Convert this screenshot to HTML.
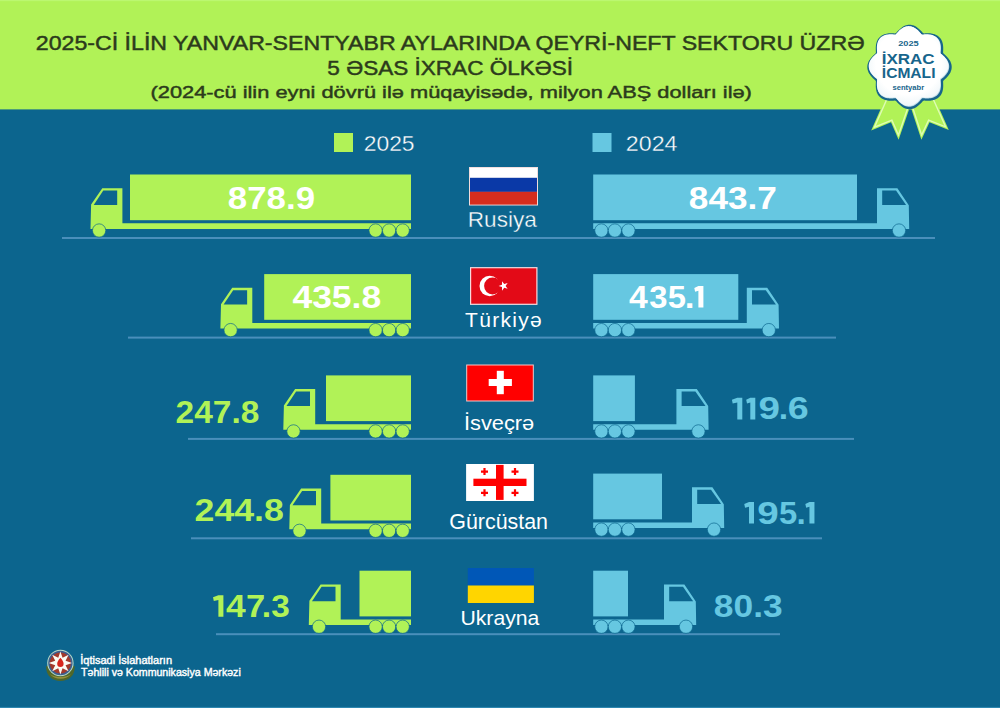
<!DOCTYPE html>
<html lang="az">
<head>
<meta charset="utf-8">
<title>İxrac icmalı 2025 sentyabr</title>
<style>
html,body{margin:0;padding:0;background:#0c658e;}
body{width:1000px;height:708px;overflow:hidden;font-family:"Liberation Sans",sans-serif;}
svg{display:block;}
</style>
</head>
<body>
<svg width="1000" height="708" viewBox="0 0 1000 708" font-family="Liberation Sans, sans-serif">
<rect width="1000" height="708" fill="#0c658e"/>
<rect width="1000" height="109.4" fill="#b1f257"/>
<rect width="1000" height="1.2" fill="#bbf770"/>
<rect y="706.9" width="1000" height="1.1" fill="#2f87b0"/>
<text x="35.82" y="50" font-size="19.6" font-weight="normal" fill="#2c3b1c" textLength="828.77" lengthAdjust="spacingAndGlyphs" stroke="#2c3b1c" stroke-width="0.45">2025-Cİ İLİN YANVAR-SENTYABR AYLARINDA QEYRİ-NEFT SEKTORU ÜZRƏ</text>
<text x="327.39" y="74.6" font-size="19.6" font-weight="normal" fill="#2c3b1c" textLength="245.72" lengthAdjust="spacingAndGlyphs" stroke="#2c3b1c" stroke-width="0.45">5 ƏSAS İXRAC ÖLKƏSİ</text>
<text x="150.54" y="98" font-size="17.3" font-weight="normal" fill="#2c3b1c" textLength="601.37" lengthAdjust="spacingAndGlyphs" stroke="#2c3b1c" stroke-width="0.45">(2024-cü ilin eyni dövrü ilə müqayisədə, milyon ABŞ dolları ilə)</text>
<rect x="334" y="133" width="19" height="19" fill="#b1f257"/>
<text x="363.7" y="150.6" font-size="22.3" font-weight="normal" fill="#ffffff" textLength="50.91" lengthAdjust="spacingAndGlyphs" stroke="#0c658e" stroke-width="0.35">2025</text>
<rect x="592.5" y="133" width="19" height="19" fill="#66c7e1"/>
<text x="625.88" y="150.6" font-size="22.3" font-weight="normal" fill="#ffffff" textLength="51.6" lengthAdjust="spacingAndGlyphs" stroke="#0c658e" stroke-width="0.35">2024</text>
<rect x="62" y="237" width="873" height="2" fill="#4a8fbb"/>
<rect x="130" y="174.5" width="281" height="45.7" fill="#b1f257"/>
<polygon points="90.5,228.9 91.1,204.6 102.3,188.2 122.4,188.2 122.4,223.3 411,223.3 411,228.9" fill="#b1f257"/>
<polygon points="103.3,190.6 117.2,190.6 117.2,205 93.7,205" fill="#0c658e"/>
<circle cx="99.1" cy="230.5" r="6.65" fill="#b1f257" stroke="#0c658e" stroke-width="0.7"/>
<circle cx="375.6" cy="230.5" r="6.65" fill="#b1f257" stroke="#0c658e" stroke-width="0.7"/>
<circle cx="389.1" cy="230.5" r="6.65" fill="#b1f257" stroke="#0c658e" stroke-width="0.7"/>
<circle cx="402.7" cy="230.5" r="6.65" fill="#b1f257" stroke="#0c658e" stroke-width="0.7"/>
<rect x="593.2" y="174.5" width="263.8" height="45.7" fill="#66c7e1"/>
<polygon points="593.2,228.9 593.2,223.3 877,223.3 877,188.2 897.4,188.2 908.8,205.2 909.2,228.9" fill="#66c7e1"/>
<polygon points="882.2,190.6 896,190.6 906.1,205 882.2,205" fill="#0c658e"/>
<circle cx="899" cy="230.5" r="6.65" fill="#66c7e1" stroke="#0c658e" stroke-width="0.7"/>
<circle cx="601.4" cy="230.5" r="6.65" fill="#66c7e1" stroke="#0c658e" stroke-width="0.7"/>
<circle cx="614.9" cy="230.5" r="6.65" fill="#66c7e1" stroke="#0c658e" stroke-width="0.7"/>
<circle cx="628.4" cy="230.5" r="6.65" fill="#66c7e1" stroke="#0c658e" stroke-width="0.7"/>
<rect x="128" y="336.6" width="708" height="2" fill="#4a8fbb"/>
<rect x="264.2" y="274.1" width="146.8" height="45.7" fill="#b1f257"/>
<polygon points="220.4,328.5 221,304.2 232.2,287.8 252.3,287.8 252.3,322.9 411,322.9 411,328.5" fill="#b1f257"/>
<polygon points="233.2,290.2 247.1,290.2 247.1,304.6 223.6,304.6" fill="#0c658e"/>
<circle cx="230.6" cy="330.1" r="6.65" fill="#b1f257" stroke="#0c658e" stroke-width="0.7"/>
<circle cx="375.6" cy="330.1" r="6.65" fill="#b1f257" stroke="#0c658e" stroke-width="0.7"/>
<circle cx="389.1" cy="330.1" r="6.65" fill="#b1f257" stroke="#0c658e" stroke-width="0.7"/>
<circle cx="402.7" cy="330.1" r="6.65" fill="#b1f257" stroke="#0c658e" stroke-width="0.7"/>
<rect x="593.2" y="274.1" width="145.1" height="45.7" fill="#66c7e1"/>
<polygon points="593.2,328.5 593.2,322.9 746.8,322.9 746.8,287.8 767.2,287.8 778.6,304.8 779,328.5" fill="#66c7e1"/>
<polygon points="752,290.2 765.8,290.2 775.9,304.6 752,304.6" fill="#0c658e"/>
<circle cx="768.8" cy="330.1" r="6.65" fill="#66c7e1" stroke="#0c658e" stroke-width="0.7"/>
<circle cx="601.4" cy="330.1" r="6.65" fill="#66c7e1" stroke="#0c658e" stroke-width="0.7"/>
<circle cx="614.9" cy="330.1" r="6.65" fill="#66c7e1" stroke="#0c658e" stroke-width="0.7"/>
<circle cx="628.4" cy="330.1" r="6.65" fill="#66c7e1" stroke="#0c658e" stroke-width="0.7"/>
<rect x="188" y="437.9" width="666" height="2" fill="#4a8fbb"/>
<rect x="326" y="375.4" width="85" height="45.7" fill="#b1f257"/>
<polygon points="283.3,429.8 283.9,405.5 295.1,389.1 315.2,389.1 315.2,424.2 411,424.2 411,429.8" fill="#b1f257"/>
<polygon points="296.1,391.5 310,391.5 310,405.9 286.5,405.9" fill="#0c658e"/>
<circle cx="293.5" cy="431.4" r="6.65" fill="#b1f257" stroke="#0c658e" stroke-width="0.7"/>
<circle cx="375.6" cy="431.4" r="6.65" fill="#b1f257" stroke="#0c658e" stroke-width="0.7"/>
<circle cx="389.1" cy="431.4" r="6.65" fill="#b1f257" stroke="#0c658e" stroke-width="0.7"/>
<circle cx="402.7" cy="431.4" r="6.65" fill="#b1f257" stroke="#0c658e" stroke-width="0.7"/>
<rect x="593.2" y="375.4" width="41.7" height="45.7" fill="#66c7e1"/>
<polygon points="593.2,429.8 593.2,424.2 676.4,424.2 676.4,389.1 696.8,389.1 708.2,406.1 708.6,429.8" fill="#66c7e1"/>
<polygon points="681.6,391.5 695.4,391.5 705.5,405.9 681.6,405.9" fill="#0c658e"/>
<circle cx="698.4" cy="431.4" r="6.65" fill="#66c7e1" stroke="#0c658e" stroke-width="0.7"/>
<circle cx="601.4" cy="431.4" r="6.65" fill="#66c7e1" stroke="#0c658e" stroke-width="0.7"/>
<circle cx="614.9" cy="431.4" r="6.65" fill="#66c7e1" stroke="#0c658e" stroke-width="0.7"/>
<circle cx="628.4" cy="431.4" r="6.65" fill="#66c7e1" stroke="#0c658e" stroke-width="0.7"/>
<rect x="191" y="537.3" width="631" height="2" fill="#4a8fbb"/>
<rect x="330.4" y="474.8" width="80.6" height="45.7" fill="#b1f257"/>
<polygon points="289.3,529.2 289.9,504.9 301.1,488.5 321.2,488.5 321.2,523.6 411,523.6 411,529.2" fill="#b1f257"/>
<polygon points="302.1,490.9 316,490.9 316,505.3 292.5,505.3" fill="#0c658e"/>
<circle cx="299.5" cy="530.8" r="6.65" fill="#b1f257" stroke="#0c658e" stroke-width="0.7"/>
<circle cx="375.6" cy="530.8" r="6.65" fill="#b1f257" stroke="#0c658e" stroke-width="0.7"/>
<circle cx="389.1" cy="530.8" r="6.65" fill="#b1f257" stroke="#0c658e" stroke-width="0.7"/>
<circle cx="402.7" cy="530.8" r="6.65" fill="#b1f257" stroke="#0c658e" stroke-width="0.7"/>
<rect x="593.2" y="473.6" width="68.8" height="45.7" fill="#66c7e1"/>
<polygon points="593.2,528 593.2,522.4 692,522.4 692,487.3 712.4,487.3 723.8,504.3 724.2,528" fill="#66c7e1"/>
<polygon points="697.2,489.7 711,489.7 721.1,504.1 697.2,504.1" fill="#0c658e"/>
<circle cx="714" cy="529.6" r="6.65" fill="#66c7e1" stroke="#0c658e" stroke-width="0.7"/>
<circle cx="601.4" cy="529.6" r="6.65" fill="#66c7e1" stroke="#0c658e" stroke-width="0.7"/>
<circle cx="614.9" cy="529.6" r="6.65" fill="#66c7e1" stroke="#0c658e" stroke-width="0.7"/>
<circle cx="628.4" cy="529.6" r="6.65" fill="#66c7e1" stroke="#0c658e" stroke-width="0.7"/>
<rect x="216" y="633.2" width="564" height="2" fill="#4a8fbb"/>
<rect x="359.5" y="570.7" width="51.5" height="45.7" fill="#b1f257"/>
<polygon points="308.8,625.1 309.4,600.8 320.6,584.4 340.7,584.4 340.7,619.5 411,619.5 411,625.1" fill="#b1f257"/>
<polygon points="321.6,586.8 335.5,586.8 335.5,601.2 312,601.2" fill="#0c658e"/>
<circle cx="319" cy="626.7" r="6.65" fill="#b1f257" stroke="#0c658e" stroke-width="0.7"/>
<circle cx="375.6" cy="626.7" r="6.65" fill="#b1f257" stroke="#0c658e" stroke-width="0.7"/>
<circle cx="389.1" cy="626.7" r="6.65" fill="#b1f257" stroke="#0c658e" stroke-width="0.7"/>
<circle cx="402.7" cy="626.7" r="6.65" fill="#b1f257" stroke="#0c658e" stroke-width="0.7"/>
<rect x="593.2" y="570.7" width="34.8" height="45.7" fill="#66c7e1"/>
<polygon points="593.2,625.1 593.2,619.5 664,619.5 664,584.4 684.4,584.4 695.8,601.4 696.2,625.1" fill="#66c7e1"/>
<polygon points="669.2,586.8 683,586.8 693.1,601.2 669.2,601.2" fill="#0c658e"/>
<circle cx="686" cy="626.7" r="6.65" fill="#66c7e1" stroke="#0c658e" stroke-width="0.7"/>
<circle cx="601.4" cy="626.7" r="6.65" fill="#66c7e1" stroke="#0c658e" stroke-width="0.7"/>
<circle cx="614.9" cy="626.7" r="6.65" fill="#66c7e1" stroke="#0c658e" stroke-width="0.7"/>
<circle cx="628.4" cy="626.7" r="6.65" fill="#66c7e1" stroke="#0c658e" stroke-width="0.7"/>
<text x="227.86" y="208.6" font-size="30.5" font-weight="bold" fill="#ffffff" textLength="87.17" lengthAdjust="spacingAndGlyphs" >878.9</text>
<text x="688.85" y="208.6" font-size="30.5" font-weight="bold" fill="#ffffff" textLength="88.08" lengthAdjust="spacingAndGlyphs" >843.7</text>
<text x="292.42" y="307.8" font-size="30.5" font-weight="bold" fill="#ffffff" textLength="88.79" lengthAdjust="spacingAndGlyphs" >435.8</text>
<text x="629" y="307.6" font-size="30.5" font-weight="bold" fill="#ffffff" textLength="18.74" lengthAdjust="spacingAndGlyphs" >4</text>
<text x="649.29" y="307.6" font-size="30.5" font-weight="bold" fill="#ffffff" textLength="18.22" lengthAdjust="spacingAndGlyphs" >3</text>
<text x="667.88" y="307.6" font-size="30.5" font-weight="bold" fill="#ffffff" textLength="18.22" lengthAdjust="spacingAndGlyphs" >5</text>
<text x="684.85" y="307.6" font-size="30.5" font-weight="bold" fill="#ffffff" textLength="9.77" lengthAdjust="spacingAndGlyphs" >.</text>
<polygon points="698.4,286 703.4,286 703.4,307.6 698.4,307.6 698.4,290.7 695.1,291.7 694.3,288" fill="#ffffff"/>
<text x="175.6" y="422.7" font-size="30.5" font-weight="bold" fill="#b1f257" textLength="83.74" lengthAdjust="spacingAndGlyphs" >247.8</text>
<polygon points="737.3,397.8 742.3,397.8 742.3,419.4 737.3,419.4 737.3,402.5 732.7,403.5 731.9,399.8" fill="#66c7e1"/>
<polygon points="750.3,397.8 755.3,397.8 755.3,419.4 750.3,419.4 750.3,402.5 747,403.5 746.2,399.8" fill="#66c7e1"/>
<text x="758.58" y="419.4" font-size="30.5" font-weight="bold" fill="#66c7e1" textLength="21.5" lengthAdjust="spacingAndGlyphs" >9</text>
<text x="778.75" y="419.4" font-size="30.5" font-weight="bold" fill="#66c7e1" textLength="9.37" lengthAdjust="spacingAndGlyphs" >.</text>
<text x="787.71" y="419.4" font-size="30.5" font-weight="bold" fill="#66c7e1" textLength="20.93" lengthAdjust="spacingAndGlyphs" >6</text>
<text x="194.53" y="521" font-size="30.5" font-weight="bold" fill="#b1f257" textLength="89.39" lengthAdjust="spacingAndGlyphs" >244.8</text>
<polygon points="749,502 754,502 754,523.6 749,523.6 749,506.7 745.05,507.7 744.25,504" fill="#66c7e1"/>
<text x="757.28" y="523.6" font-size="30.5" font-weight="bold" fill="#66c7e1" textLength="21.5" lengthAdjust="spacingAndGlyphs" >9</text>
<text x="778.93" y="523.6" font-size="30.5" font-weight="bold" fill="#66c7e1" textLength="18.22" lengthAdjust="spacingAndGlyphs" >5</text>
<text x="796.53" y="523.6" font-size="30.5" font-weight="bold" fill="#66c7e1" textLength="9.27" lengthAdjust="spacingAndGlyphs" >.</text>
<polygon points="809.45,502 814.45,502 814.45,523.6 809.45,523.6 809.45,506.7 806.15,507.7 805.35,504" fill="#66c7e1"/>
<polygon points="218.4,595.2 223.4,595.2 223.4,616.8 218.4,616.8 218.4,599.9 213.8,600.9 213,597.2" fill="#b1f257"/>
<text x="226.07" y="616.8" font-size="30.5" font-weight="bold" fill="#b1f257" textLength="19.68" lengthAdjust="spacingAndGlyphs" >4</text>
<text x="246.04" y="616.8" font-size="30.5" font-weight="bold" fill="#b1f257" textLength="19.18" lengthAdjust="spacingAndGlyphs" >7</text>
<text x="261.85" y="616.8" font-size="30.5" font-weight="bold" fill="#b1f257" textLength="9.37" lengthAdjust="spacingAndGlyphs" >.</text>
<text x="271.33" y="616.8" font-size="30.5" font-weight="bold" fill="#b1f257" textLength="18.56" lengthAdjust="spacingAndGlyphs" >3</text>
<text x="713.84" y="617" font-size="30.5" font-weight="bold" fill="#66c7e1" textLength="68.85" lengthAdjust="spacingAndGlyphs" >80.3</text>
<rect x="469" y="167" width="69" height="38.5" fill="#f1dcdc"/>
<rect x="470" y="167.9" width="67" height="10" fill="#ffffff"/>
<rect x="470" y="177.8" width="67" height="14.1" fill="#0a39a7"/>
<rect x="470" y="191.8" width="67" height="12.8" fill="#d62d1e"/>
<text x="467.74" y="227.3" font-size="21.3" font-weight="normal" fill="#ffffff" textLength="69.14" lengthAdjust="spacingAndGlyphs" stroke="#0c658e" stroke-width="0.35">Rusiya</text>
<rect x="470" y="267.1" width="67.5" height="37.8" fill="#f9dadd"/>
<rect x="471.2" y="268.3" width="65.1" height="35.4" fill="#e30a17"/>
<circle cx="489.7" cy="286" r="10.2" fill="#ffffff"/>
<circle cx="492.6" cy="286" r="8.5" fill="#e30a17"/>
<polygon points="498.6,285.9 501.98,284.72 502.05,281.14 504.22,284 507.65,282.96 505.6,285.9 507.65,288.84 504.22,287.8 502.05,290.66 501.98,287.08" fill="#ffffff"/>
<text x="465.1" y="326.65" font-size="21" font-weight="normal" fill="#ffffff" textLength="76.62" lengthAdjust="spacing" >Türkiyə</text>
<rect x="466.2" y="364.5" width="67.6" height="37" fill="#f8c4c4"/>
<rect x="467.2" y="365.5" width="65.6" height="35" fill="#ff0000"/>
<rect x="488.7" y="379" width="23.2" height="7" fill="#ffffff"/>
<rect x="496.8" y="370.8" width="7" height="23.4" fill="#ffffff"/>
<text x="463.92" y="429.6" font-size="21" font-weight="normal" fill="#ffffff" textLength="70.35" lengthAdjust="spacingAndGlyphs" >İsveçrə</text>
<rect x="466.1" y="464" width="67.8" height="37" fill="#ffffff"/>
<rect x="473.4" y="478.7" width="53.1" height="7.3" fill="#ff0000"/>
<rect x="496" y="464.9" width="7.6" height="35" fill="#ff0000"/>
<path d="M481 471.6h7M484.5 468.1v7" stroke="#ff0000" stroke-width="2.2" fill="none"/>
<path d="M511.5 471.6h7M515 468.1v7" stroke="#ff0000" stroke-width="2.2" fill="none"/>
<path d="M481 492.8h7M484.5 489.3v7" stroke="#ff0000" stroke-width="2.2" fill="none"/>
<path d="M511.5 492.8h7M515 489.3v7" stroke="#ff0000" stroke-width="2.2" fill="none"/>
<text x="449.28" y="529.25" font-size="21.5" font-weight="normal" fill="#ffffff" textLength="98.75" lengthAdjust="spacingAndGlyphs" >Gürcüstan</text>
<rect x="467.8" y="568" width="66.1" height="17.6" fill="#0057b7"/>
<rect x="467.8" y="585.5" width="66.1" height="17.5" fill="#ffd500"/>
<text x="460.46" y="625.35" font-size="21" font-weight="normal" fill="#ffffff" textLength="78.94" lengthAdjust="spacingAndGlyphs" >Ukrayna</text>
<polygon points="887.6,93.3 871.2,130.4 891,122.3 898.6,139.8 909.4,108.6 905,96" fill="#b1f257"/>
<polygon points="932.5,93.3 948.8,129.9 929.5,122.3 921.4,139.8 911.2,108.6 915,96" fill="#b1f257"/>
<polyline points="889.15,93.99 874.46,127.23 891.9,120.1 898.42,135.12 907.79,108.04" fill="none" stroke="#defcb4" stroke-width="1.4" stroke-linejoin="miter"/>
<polyline points="930.95,93.99 945.56,126.8 928.63,120.13 921.67,135.16 912.82,108.07" fill="none" stroke="#defcb4" stroke-width="1.4" stroke-linejoin="miter"/>
<defs><radialGradient id="bg1" cx="50%" cy="45%" r="55%"><stop offset="0.75" stop-color="#ffffff"/><stop offset="1" stop-color="#eef6f9"/></radialGradient></defs>
<path d="M951.7 67L951.65 68.1L951.49 69.2L951.23 70.28L950.88 71.35L950.43 72.39L949.89 73.4L949.28 74.37L948.61 75.31L947.87 76.21L947.1 77.07L946.29 77.9L945.47 78.69L944.64 79.44L943.84 80.18L943.13 80.93L943.11 81.96L943.15 83.05L943.2 84.17L943.22 85.31L943.21 86.46L943.15 87.62L943.03 88.78L942.85 89.92L942.59 91.04L942.25 92.13L941.83 93.18L941.33 94.19L940.75 95.14L940.08 96.02L939.34 96.84L938.52 97.58L937.64 98.25L936.69 98.83L935.68 99.33L934.63 99.75L933.54 100.09L932.42 100.35L931.28 100.53L930.12 100.65L928.96 100.71L927.81 100.72L926.67 100.7L925.55 100.65L924.46 100.61L923.43 100.63L922.68 101.34L921.94 102.14L921.19 102.97L920.4 103.79L919.57 104.6L918.71 105.37L917.81 106.11L916.87 106.78L915.9 107.39L914.89 107.93L913.85 108.38L912.78 108.73L911.7 108.99L910.6 109.15L909.5 109.2L908.4 109.15L907.3 108.99L906.22 108.73L905.15 108.38L904.11 107.93L903.1 107.39L902.13 106.78L901.19 106.11L900.29 105.37L899.43 104.6L898.6 103.79L897.81 102.97L897.06 102.14L896.32 101.34L895.57 100.63L894.54 100.61L893.45 100.65L892.33 100.7L891.19 100.72L890.04 100.71L888.88 100.65L887.72 100.53L886.58 100.35L885.46 100.09L884.37 99.75L883.32 99.33L882.31 98.83L881.36 98.25L880.48 97.58L879.66 96.84L878.92 96.02L878.25 95.14L877.67 94.19L877.17 93.18L876.75 92.13L876.41 91.04L876.15 89.92L875.97 88.78L875.85 87.62L875.79 86.46L875.78 85.31L875.8 84.17L875.85 83.05L875.89 81.96L875.87 80.93L875.16 80.18L874.36 79.44L873.53 78.69L872.71 77.9L871.9 77.07L871.13 76.21L870.39 75.31L869.72 74.37L869.11 73.4L868.57 72.39L868.12 71.35L867.77 70.28L867.51 69.2L867.35 68.1L867.3 67L867.35 65.9L867.51 64.8L867.77 63.72L868.12 62.65L868.57 61.61L869.11 60.6L869.72 59.63L870.39 58.69L871.13 57.79L871.9 56.93L872.71 56.1L873.53 55.31L874.36 54.56L875.16 53.82L875.87 53.07L875.89 52.04L875.85 50.95L875.8 49.83L875.78 48.69L875.79 47.54L875.85 46.38L875.97 45.22L876.15 44.08L876.41 42.96L876.75 41.87L877.17 40.82L877.67 39.81L878.25 38.86L878.92 37.98L879.66 37.16L880.48 36.42L881.36 35.75L882.31 35.17L883.32 34.67L884.37 34.25L885.46 33.91L886.58 33.65L887.72 33.47L888.88 33.35L890.04 33.29L891.19 33.28L892.33 33.3L893.45 33.35L894.54 33.39L895.57 33.37L896.32 32.66L897.06 31.86L897.81 31.03L898.6 30.21L899.43 29.4L900.29 28.63L901.19 27.89L902.13 27.22L903.1 26.61L904.11 26.07L905.15 25.62L906.22 25.27L907.3 25.01L908.4 24.85L909.5 24.8L910.6 24.85L911.7 25.01L912.78 25.27L913.85 25.62L914.89 26.07L915.9 26.61L916.87 27.22L917.81 27.89L918.71 28.63L919.57 29.4L920.4 30.21L921.19 31.03L921.94 31.86L922.68 32.66L923.43 33.37L924.46 33.39L925.55 33.35L926.67 33.3L927.81 33.28L928.96 33.29L930.12 33.35L931.28 33.47L932.42 33.65L933.54 33.91L934.63 34.25L935.68 34.67L936.69 35.17L937.64 35.75L938.52 36.42L939.34 37.16L940.08 37.98L940.75 38.86L941.33 39.81L941.83 40.82L942.25 41.87L942.59 42.96L942.85 44.08L943.03 45.22L943.15 46.38L943.21 47.54L943.22 48.69L943.2 49.83L943.15 50.95L943.11 52.04L943.13 53.07L943.84 53.82L944.64 54.56L945.47 55.31L946.29 56.1L947.1 56.93L947.87 57.79L948.61 58.69L949.28 59.63L949.89 60.6L950.43 61.61L950.88 62.65L951.23 63.72L951.49 64.8L951.65 65.9Z" fill="#17658c"/>
<path d="M949.2 66.6L949.15 67.65L948.99 68.69L948.74 69.72L948.39 70.73L947.95 71.71L947.42 72.67L946.82 73.59L946.15 74.48L945.43 75.32L944.67 76.13L943.88 76.9L943.07 77.64L942.26 78.34L941.48 79.03L940.79 79.73L940.79 80.71L940.85 81.75L940.92 82.82L940.98 83.91L940.99 85.01L940.96 86.12L940.87 87.23L940.71 88.33L940.49 89.4L940.18 90.45L939.8 91.46L939.33 92.42L938.79 93.33L938.16 94.18L937.45 94.95L936.68 95.66L935.83 96.29L934.92 96.83L933.96 97.3L932.95 97.68L931.9 97.99L930.83 98.21L929.73 98.37L928.62 98.46L927.51 98.49L926.41 98.48L925.32 98.42L924.25 98.35L923.21 98.29L922.23 98.29L921.53 98.98L920.84 99.76L920.14 100.57L919.4 101.38L918.63 102.17L917.82 102.93L916.98 103.65L916.09 104.32L915.17 104.92L914.21 105.45L913.23 105.89L912.22 106.24L911.19 106.49L910.15 106.65L909.1 106.7L908.05 106.65L907.01 106.49L905.98 106.24L904.97 105.89L903.99 105.45L903.03 104.92L902.11 104.32L901.22 103.65L900.38 102.93L899.57 102.17L898.8 101.38L898.06 100.57L897.36 99.76L896.67 98.98L895.97 98.29L894.99 98.29L893.95 98.35L892.88 98.42L891.79 98.48L890.69 98.49L889.58 98.46L888.47 98.37L887.37 98.21L886.3 97.99L885.25 97.68L884.24 97.3L883.28 96.83L882.37 96.29L881.52 95.66L880.75 94.95L880.04 94.18L879.41 93.33L878.87 92.42L878.4 91.46L878.02 90.45L877.71 89.4L877.49 88.33L877.33 87.23L877.24 86.12L877.21 85.01L877.22 83.91L877.28 82.82L877.35 81.75L877.41 80.71L877.41 79.73L876.72 79.03L875.94 78.34L875.13 77.64L874.32 76.9L873.53 76.13L872.77 75.32L872.05 74.48L871.38 73.59L870.78 72.67L870.25 71.71L869.81 70.73L869.46 69.72L869.21 68.69L869.05 67.65L869 66.6L869.05 65.55L869.21 64.51L869.46 63.48L869.81 62.47L870.25 61.49L870.78 60.53L871.38 59.61L872.05 58.72L872.77 57.88L873.53 57.07L874.32 56.3L875.13 55.56L875.94 54.86L876.72 54.17L877.41 53.47L877.41 52.49L877.35 51.45L877.28 50.38L877.22 49.29L877.21 48.19L877.24 47.08L877.33 45.97L877.49 44.87L877.71 43.8L878.02 42.75L878.4 41.74L878.87 40.78L879.41 39.87L880.04 39.02L880.75 38.25L881.52 37.54L882.37 36.91L883.28 36.37L884.24 35.9L885.25 35.52L886.3 35.21L887.37 34.99L888.47 34.83L889.58 34.74L890.69 34.71L891.79 34.72L892.88 34.78L893.95 34.85L894.99 34.91L895.97 34.91L896.67 34.22L897.36 33.44L898.06 32.63L898.8 31.82L899.57 31.03L900.38 30.27L901.22 29.55L902.11 28.88L903.03 28.28L903.99 27.75L904.97 27.31L905.98 26.96L907.01 26.71L908.05 26.55L909.1 26.5L910.15 26.55L911.19 26.71L912.22 26.96L913.23 27.31L914.21 27.75L915.17 28.28L916.09 28.88L916.98 29.55L917.82 30.27L918.63 31.03L919.4 31.82L920.14 32.63L920.84 33.44L921.53 34.22L922.23 34.91L923.21 34.91L924.25 34.85L925.32 34.78L926.41 34.72L927.51 34.71L928.62 34.74L929.73 34.83L930.83 34.99L931.9 35.21L932.95 35.52L933.96 35.9L934.92 36.37L935.83 36.91L936.68 37.54L937.45 38.25L938.16 39.02L938.79 39.87L939.33 40.78L939.8 41.74L940.18 42.75L940.49 43.8L940.71 44.87L940.87 45.97L940.96 47.08L940.99 48.19L940.98 49.29L940.92 50.38L940.85 51.45L940.79 52.49L940.79 53.47L941.48 54.17L942.26 54.86L943.07 55.56L943.88 56.3L944.67 57.07L945.43 57.88L946.15 58.72L946.82 59.61L947.42 60.53L947.95 61.49L948.39 62.47L948.74 63.48L948.99 64.51L949.15 65.55Z" fill="#bfd9e6"/>
<path d="M948.5 66L948.45 67.04L948.29 68.08L948.04 69.1L947.69 70.11L947.25 71.09L946.72 72.04L946.12 72.95L945.46 73.83L944.74 74.68L943.98 75.48L943.19 76.24L942.38 76.98L941.57 77.68L940.8 78.36L940.1 79.05L940.1 80.03L940.17 81.06L940.25 82.12L940.3 83.21L940.32 84.31L940.29 85.42L940.2 86.52L940.05 87.62L939.83 88.69L939.53 89.73L939.14 90.73L938.68 91.69L938.14 92.6L937.51 93.44L936.81 94.21L936.04 94.91L935.2 95.54L934.29 96.08L933.33 96.54L932.33 96.93L931.29 97.23L930.22 97.45L929.12 97.6L928.02 97.69L926.91 97.72L925.81 97.7L924.72 97.65L923.66 97.57L922.63 97.5L921.65 97.5L920.96 98.2L920.28 98.97L919.58 99.78L918.84 100.59L918.08 101.38L917.28 102.14L916.43 102.86L915.55 103.52L914.64 104.12L913.69 104.65L912.71 105.09L911.7 105.44L910.68 105.69L909.64 105.85L908.6 105.9L907.56 105.85L906.52 105.69L905.5 105.44L904.49 105.09L903.51 104.65L902.56 104.12L901.65 103.52L900.77 102.86L899.92 102.14L899.12 101.38L898.36 100.59L897.62 99.78L896.92 98.97L896.24 98.2L895.55 97.5L894.57 97.5L893.54 97.57L892.48 97.65L891.39 97.7L890.29 97.72L889.18 97.69L888.08 97.6L886.98 97.45L885.91 97.23L884.87 96.93L883.87 96.54L882.91 96.08L882 95.54L881.16 94.91L880.39 94.21L879.69 93.44L879.06 92.6L878.52 91.69L878.06 90.73L877.67 89.73L877.37 88.69L877.15 87.62L877 86.52L876.91 85.42L876.88 84.31L876.9 83.21L876.95 82.12L877.03 81.06L877.1 80.03L877.1 79.05L876.4 78.36L875.63 77.68L874.82 76.98L874.01 76.24L873.22 75.48L872.46 74.68L871.74 73.83L871.08 72.95L870.48 72.04L869.95 71.09L869.51 70.11L869.16 69.1L868.91 68.08L868.75 67.04L868.7 66L868.75 64.96L868.91 63.92L869.16 62.9L869.51 61.89L869.95 60.91L870.48 59.96L871.08 59.05L871.74 58.17L872.46 57.32L873.22 56.52L874.01 55.76L874.82 55.02L875.63 54.32L876.4 53.64L877.1 52.95L877.1 51.97L877.03 50.94L876.95 49.88L876.9 48.79L876.88 47.69L876.91 46.58L877 45.48L877.15 44.38L877.37 43.31L877.67 42.27L878.06 41.27L878.52 40.31L879.06 39.4L879.69 38.56L880.39 37.79L881.16 37.09L882 36.46L882.91 35.92L883.87 35.46L884.87 35.07L885.91 34.77L886.98 34.55L888.08 34.4L889.18 34.31L890.29 34.28L891.39 34.3L892.48 34.35L893.54 34.43L894.57 34.5L895.55 34.5L896.24 33.8L896.92 33.03L897.62 32.22L898.36 31.41L899.12 30.62L899.92 29.86L900.77 29.14L901.65 28.48L902.56 27.88L903.51 27.35L904.49 26.91L905.5 26.56L906.52 26.31L907.56 26.15L908.6 26.1L909.64 26.15L910.68 26.31L911.7 26.56L912.71 26.91L913.69 27.35L914.64 27.88L915.55 28.48L916.43 29.14L917.28 29.86L918.08 30.62L918.84 31.41L919.58 32.22L920.28 33.03L920.96 33.8L921.65 34.5L922.63 34.5L923.66 34.43L924.72 34.35L925.81 34.3L926.91 34.28L928.02 34.31L929.12 34.4L930.22 34.55L931.29 34.77L932.33 35.07L933.33 35.46L934.29 35.92L935.2 36.46L936.04 37.09L936.81 37.79L937.51 38.56L938.14 39.4L938.68 40.31L939.14 41.27L939.53 42.27L939.83 43.31L940.05 44.38L940.2 45.48L940.29 46.58L940.32 47.69L940.3 48.79L940.25 49.88L940.17 50.94L940.1 51.97L940.1 52.95L940.8 53.64L941.57 54.32L942.38 55.02L943.19 55.76L943.98 56.52L944.74 57.32L945.46 58.17L946.12 59.05L946.72 59.96L947.25 60.91L947.69 61.89L948.04 62.9L948.29 63.92L948.45 64.96Z" fill="url(#bg1)"/>
<text x="898.2" y="45.8" font-size="7.8" font-weight="bold" fill="#17658c" textLength="20.56" lengthAdjust="spacingAndGlyphs" >2025</text>
<text x="881.74" y="63.8" font-size="14.6" font-weight="bold" fill="#17658c" textLength="52.86" lengthAdjust="spacingAndGlyphs" >İXRAC</text>
<text x="881.8" y="78.15" font-size="14.2" font-weight="bold" fill="#17658c" textLength="53.69" lengthAdjust="spacingAndGlyphs" >İCMALI</text>
<text x="892.43" y="89.8" font-size="7.8" font-weight="bold" fill="#17658c" textLength="31.8" lengthAdjust="spacingAndGlyphs" >sentyabr</text>
<path d="M46.2 666 C45.5 676 53 681 60.4 681 C68 681 75.5 676 74.6 666 Z" fill="#4f672a"/>
<path d="M50 674 C54 680.4 67 680.4 71 674 C67 678 54 678 50 674Z" fill="#98903a"/>
<circle cx="60.4" cy="663" r="13.2" fill="#b9dccb"/>
<circle cx="60.4" cy="663" r="12.2" fill="#3d5f8e"/>
<circle cx="60.4" cy="663" r="10.6" fill="#a23a2c"/>
<polygon points="60.4,651.4 62.54,657.83 68.6,654.8 65.57,660.86 72,663 65.57,665.14 68.6,671.2 62.54,668.17 60.4,674.6 58.26,668.17 52.2,671.2 55.23,665.14 48.8,663 55.23,660.86 52.2,654.8 58.26,657.83" fill="#fbfbf3"/>
<path d="M60.4 657.8 c2.4 2.6 3.2 4.4 3.2 6 a3.2 3.2 0 0 1 -6.4 0 c0 -1.6 0.8 -3.4 3.2 -6z" fill="#d8261c"/>
<text x="80.24" y="663.8" font-size="10.4" font-weight="normal" fill="#ffffff" textLength="91.8" lengthAdjust="spacingAndGlyphs" stroke="#ffffff" stroke-width="0.4">İqtisadi İslahatların</text>
<text x="81.05" y="675.6" font-size="10.4" font-weight="normal" fill="#ffffff" textLength="159.7" lengthAdjust="spacingAndGlyphs" stroke="#ffffff" stroke-width="0.4">Təhlili və Kommunikasiya Mərkəzi</text>
</svg>
</body>
</html>
